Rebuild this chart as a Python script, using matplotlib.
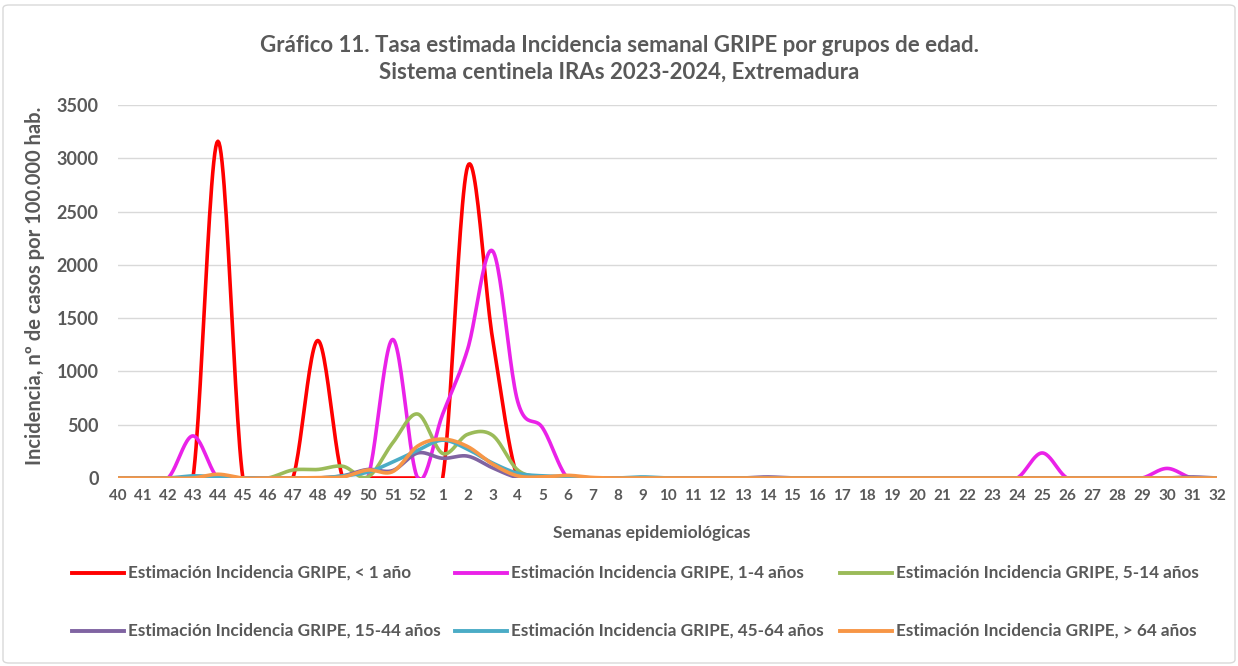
import matplotlib.pyplot as plt
from matplotlib.lines import Line2D
from matplotlib.patches import FancyBboxPatch
import numpy as np

plt.rcParams['font.family'] = ['Lato', 'DejaVu Sans']

weeks = [str(w) for w in range(40, 53)] + [str(w) for w in range(1, 33)]

# values per week: weeks 40-52 (2023), then 1-16 and 17-32 (2024)
inc_lt1 = ([0, 0, 0, 0, 3160, 0, 0, 0, 1290, 0, 0, 0, 0]
           + [0, 2925, 1300, 0, 0, 0, 0, 0, 0, 0, 0, 0, 0, 0, 0, 0]
           + [0, 0, 0, 0, 0, 0, 0, 0, 0, 0, 0, 0, 0, 0, 0, 0])
inc_1_4 = ([0, 0, 0, 395, 0, 0, 0, 0, 0, 0, 0, 1300, 0]
           + [600, 1210, 2130, 720, 470, 0, 0, 0, 0, 0, 0, 0, 0, 0, 0, 0]
           + [0, 0, 0, 0, 0, 0, 0, 0, 235, 0, 0, 0, 0, 90, 0, 0])
inc_5_14 = ([0, 0, 0, 0, 0, 0, 0, 75, 80, 110, 10, 330, 600]
            + [230, 410, 400, 75, 10, 0, 0, 0, 0, 0, 0, 0, 0, 0, 0, 0]
            + [0, 0, 0, 0, 0, 0, 0, 0, 0, 0, 0, 0, 0, 0, 0, 0])
inc_15_44 = ([0, 0, 0, 0, 0, 0, 0, 0, 0, 20, 80, 70, 235]
             + [185, 205, 95, 5, 0, 0, 0, 0, 0, 0, 0, 0, 0, 10, 0, 0]
             + [0, 0, 0, 0, 0, 0, 0, 0, 0, 0, 0, 0, 0, 0, 10, 0])
inc_45_64 = ([0, 0, 0, 20, 10, 0, 0, 0, 0, 20, 55, 150, 260]
             + [355, 270, 140, 45, 20, 15, 0, 0, 10, 0, 0, 0, 0, 0, 0, 0]
             + [0, 0, 0, 0, 0, 0, 0, 0, 0, 0, 0, 0, 0, 0, 0, 0])
inc_gt64 = ([0, 0, 0, 0, 35, 0, 0, 0, 5, 10, 75, 60, 300]
            + [365, 295, 130, 20, 10, 25, 5, 0, 0, 0, 0, 0, 0, 0, 0, 0]
            + [0, 0, 0, 0, 0, 0, 0, 0, 0, 0, 0, 0, 0, 0, 0, 0])

series = [
    ("Estimación Incidencia GRIPE, < 1 año", inc_lt1, "#FF0000"),
    ("Estimación Incidencia GRIPE, 1-4 años", inc_1_4, "#EA22E8"),
    ("Estimación Incidencia GRIPE, 5-14 años", inc_5_14, "#9BBB59"),
    ("Estimación Incidencia GRIPE, 15-44 años", inc_15_44, "#8064A2"),
    ("Estimación Incidencia GRIPE, 45-64 años", inc_45_64, "#4BACC6"),
    ("Estimación Incidencia GRIPE, > 64 años", inc_gt64, "#F79646"),
]


def smooth(y, n=24):
    # Catmull-Rom, like Excel's smoothed line
    p = np.asarray(y, float)
    p = np.concatenate([[p[0]], p, [p[-1]]])
    t = np.linspace(0, 1, n, endpoint=False)
    xs, ys = [], []
    for i in range(len(y) - 1):
        p0, p1, p2, p3 = p[i], p[i + 1], p[i + 2], p[i + 3]
        c1 = p1 + (p2 - p0) / 6
        c2 = p2 - (p3 - p1) / 6
        b = (1 - t) ** 3 * p1 + 3 * (1 - t) ** 2 * t * c1 + 3 * (1 - t) * t ** 2 * c2 + t ** 3 * p2
        xs.append(i + t)
        ys.append(b)
    xs.append([len(y) - 1])
    ys.append([y[-1]])
    return np.concatenate(xs), np.concatenate(ys)


grey = "#595959"
fig = plt.figure(figsize=(12.38, 6.66), dpi=100)
ax = fig.add_axes([118 / 1238, 1 - 478 / 666, (1217 - 118) / 1238, (478 - 105) / 666])

for label, vals, col in series:
    xs, ys = smooth(vals)
    ax.plot(xs, ys, color=col, lw=2.6, solid_capstyle='round')

ax.set_xlim(0, len(weeks) - 1)
ax.set_ylim(0, 3500)
ax.set_yticks(range(0, 3501, 500))
ax.set_xticks(range(len(weeks)))
ax.set_xticklabels(weeks, fontsize=11, fontweight='bold', color=grey)
for t in ax.get_yticklabels():
    t.set_fontsize(13)
    t.set_fontweight('bold')
    t.set_color(grey)
ax.tick_params(length=0)
ax.tick_params(axis='x', pad=8)
ax.tick_params(axis='y', pad=14)
ax.grid(axis='y', color='#d9d9d9', lw=1)
ax.set_axisbelow(True)
for s in ax.spines.values():
    s.set_visible(False)

fig.text(0.5, 1 - 45 / 666, "Gráfico 11. Tasa estimada Incidencia semanal GRIPE por grupos de edad.",
         ha='center', va='center', fontsize=16, fontweight='bold', color=grey)
fig.text(0.5, 1 - 72 / 666, "Sistema centinela IRAs 2023-2024, Extremadura",
         ha='center', va='center', fontsize=16, fontweight='bold', color=grey)
fig.text(35 / 1238, 1 - 286 / 666, "Incidencia, nº de casos por 100.000 hab.", rotation=90,
         ha='center', va='center', fontsize=14.5, fontweight='bold', color=grey)
fig.text(652 / 1238, 1 - 533 / 666, "Semanas epidemiológicas",
         ha='center', va='center', fontsize=12.5, fontweight='bold', color=grey)

col_x = [72, 455, 840]
row_y = [573, 631]
for i, (label, vals, col) in enumerate(series):
    x0 = col_x[i % 3]
    y0 = row_y[i // 3]
    fig.add_artist(Line2D([x0 / 1238, (x0 + 52) / 1238], [1 - y0 / 666, 1 - y0 / 666],
                          color=col, lw=2.8, transform=fig.transFigure))
    fig.text((x0 + 56) / 1238, 1 - y0 / 666, label, ha='left', va='center',
             fontsize=12.3, fontweight='bold', color=grey)

fig.add_artist(FancyBboxPatch((3 / 1238, 3 / 666), 1232 / 1238, 658 / 666,
                              boxstyle="round,pad=0,rounding_size=0.005",
                              transform=fig.transFigure, fill=False, ec='#d9d9d9', lw=1))

fig.savefig("out.png", dpi=100)
